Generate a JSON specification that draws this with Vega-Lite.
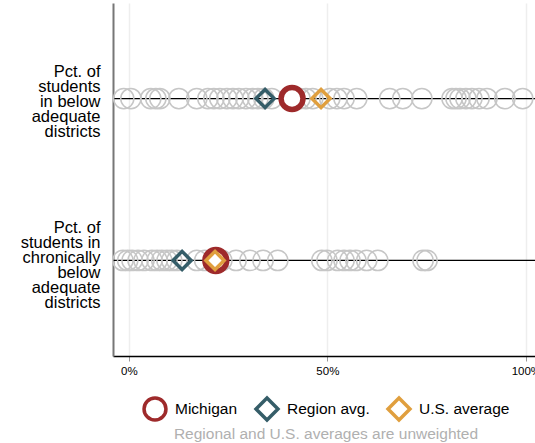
{
  "$schema": "https://vega.github.io/schema/vega-lite/v6.json",
  "width": 422,
  "height": 353,
  "autosize": {"type": "none"},
  "padding": {"left": 113, "top": 3, "right": 0, "bottom": 87},
  "background": "white",
  "config": {
    "font": "Liberation Sans",
    "view": {"stroke": null}
  },
  "datasets": {
    "rows": [
      {"measure": "Pct. of|students|in below|adequate|districts"},
      {"measure": "Pct. of|students in|chronically|below|adequate|districts"}
    ],
    "districts": [
      {"measure": "Pct. of|students|in below|adequate|districts", "pct": -1.3},
      {"measure": "Pct. of|students|in below|adequate|districts", "pct": 0.5},
      {"measure": "Pct. of|students|in below|adequate|districts", "pct": 5.5},
      {"measure": "Pct. of|students|in below|adequate|districts", "pct": 6.8},
      {"measure": "Pct. of|students|in below|adequate|districts", "pct": 7.8},
      {"measure": "Pct. of|students|in below|adequate|districts", "pct": 12.6},
      {"measure": "Pct. of|students|in below|adequate|districts", "pct": 17.1},
      {"measure": "Pct. of|students|in below|adequate|districts", "pct": 19.9},
      {"measure": "Pct. of|students|in below|adequate|districts", "pct": 21.4},
      {"measure": "Pct. of|students|in below|adequate|districts", "pct": 22.9},
      {"measure": "Pct. of|students|in below|adequate|districts", "pct": 24.7},
      {"measure": "Pct. of|students|in below|adequate|districts", "pct": 26.2},
      {"measure": "Pct. of|students|in below|adequate|districts", "pct": 27.7},
      {"measure": "Pct. of|students|in below|adequate|districts", "pct": 29.5},
      {"measure": "Pct. of|students|in below|adequate|districts", "pct": 31.2},
      {"measure": "Pct. of|students|in below|adequate|districts", "pct": 32.5},
      {"measure": "Pct. of|students|in below|adequate|districts", "pct": 34.0},
      {"measure": "Pct. of|students|in below|adequate|districts", "pct": 36.0},
      {"measure": "Pct. of|students|in below|adequate|districts", "pct": 43.1},
      {"measure": "Pct. of|students|in below|adequate|districts", "pct": 44.6},
      {"measure": "Pct. of|students|in below|adequate|districts", "pct": 46.3},
      {"measure": "Pct. of|students|in below|adequate|districts", "pct": 50.6},
      {"measure": "Pct. of|students|in below|adequate|districts", "pct": 52.4},
      {"measure": "Pct. of|students|in below|adequate|districts", "pct": 54.2},
      {"measure": "Pct. of|students|in below|adequate|districts", "pct": 57.4},
      {"measure": "Pct. of|students|in below|adequate|districts", "pct": 65.7},
      {"measure": "Pct. of|students|in below|adequate|districts", "pct": 69.0},
      {"measure": "Pct. of|students|in below|adequate|districts", "pct": 73.8},
      {"measure": "Pct. of|students|in below|adequate|districts", "pct": 81.4},
      {"measure": "Pct. of|students|in below|adequate|districts", "pct": 82.4},
      {"measure": "Pct. of|students|in below|adequate|districts", "pct": 83.4},
      {"measure": "Pct. of|students|in below|adequate|districts", "pct": 84.9},
      {"measure": "Pct. of|students|in below|adequate|districts", "pct": 86.4},
      {"measure": "Pct. of|students|in below|adequate|districts", "pct": 88.2},
      {"measure": "Pct. of|students|in below|adequate|districts", "pct": 90.2},
      {"measure": "Pct. of|students|in below|adequate|districts", "pct": 94.7},
      {"measure": "Pct. of|students|in below|adequate|districts", "pct": 99.2},
      {"measure": "Pct. of|students in|chronically|below|adequate|districts", "pct": -1.5},
      {"measure": "Pct. of|students in|chronically|below|adequate|districts", "pct": -0.3},
      {"measure": "Pct. of|students in|chronically|below|adequate|districts", "pct": 0.8},
      {"measure": "Pct. of|students in|chronically|below|adequate|districts", "pct": 2.3},
      {"measure": "Pct. of|students in|chronically|below|adequate|districts", "pct": 3.8},
      {"measure": "Pct. of|students in|chronically|below|adequate|districts", "pct": 5.8},
      {"measure": "Pct. of|students in|chronically|below|adequate|districts", "pct": 7.1},
      {"measure": "Pct. of|students in|chronically|below|adequate|districts", "pct": 8.3},
      {"measure": "Pct. of|students in|chronically|below|adequate|districts", "pct": 9.6},
      {"measure": "Pct. of|students in|chronically|below|adequate|districts", "pct": 10.8},
      {"measure": "Pct. of|students in|chronically|below|adequate|districts", "pct": 12.1},
      {"measure": "Pct. of|students in|chronically|below|adequate|districts", "pct": 17.1},
      {"measure": "Pct. of|students in|chronically|below|adequate|districts", "pct": 19.1},
      {"measure": "Pct. of|students in|chronically|below|adequate|districts", "pct": 23.4},
      {"measure": "Pct. of|students in|chronically|below|adequate|districts", "pct": 27.0},
      {"measure": "Pct. of|students in|chronically|below|adequate|districts", "pct": 30.5},
      {"measure": "Pct. of|students in|chronically|below|adequate|districts", "pct": 33.8},
      {"measure": "Pct. of|students in|chronically|below|adequate|districts", "pct": 37.5},
      {"measure": "Pct. of|students in|chronically|below|adequate|districts", "pct": 48.6},
      {"measure": "Pct. of|students in|chronically|below|adequate|districts", "pct": 49.9},
      {"measure": "Pct. of|students in|chronically|below|adequate|districts", "pct": 52.6},
      {"measure": "Pct. of|students in|chronically|below|adequate|districts", "pct": 54.2},
      {"measure": "Pct. of|students in|chronically|below|adequate|districts", "pct": 55.7},
      {"measure": "Pct. of|students in|chronically|below|adequate|districts", "pct": 57.2},
      {"measure": "Pct. of|students in|chronically|below|adequate|districts", "pct": 59.9},
      {"measure": "Pct. of|students in|chronically|below|adequate|districts", "pct": 62.7},
      {"measure": "Pct. of|students in|chronically|below|adequate|districts", "pct": 74.1},
      {"measure": "Pct. of|students in|chronically|below|adequate|districts", "pct": 75.1}
    ],
    "highlights": [
      {"measure": "Pct. of|students|in below|adequate|districts", "series": "Michigan", "pct": 41.1},
      {"measure": "Pct. of|students|in below|adequate|districts", "series": "Region avg.", "pct": 34.3},
      {"measure": "Pct. of|students|in below|adequate|districts", "series": "U.S. average", "pct": 48.4},
      {"measure": "Pct. of|students in|chronically|below|adequate|districts", "series": "Michigan", "pct": 21.9},
      {"measure": "Pct. of|students in|chronically|below|adequate|districts", "series": "Region avg.", "pct": 13.4},
      {"measure": "Pct. of|students in|chronically|below|adequate|districts", "series": "U.S. average", "pct": 21.7}
    ]
  },
  "encoding": {
    "y": {
      "field": "measure",
      "type": "nominal",
      "sort": null,
      "scale": {"type": "point", "padding": 0.59, "domain": ["Pct. of|students|in below|adequate|districts", "Pct. of|students in|chronically|below|adequate|districts"]},
      "axis": {
        "title": null,
        "labelExpr": "split(datum.label, '|')",
        "labelFontSize": 16.5,
        "labelLineHeight": 15,
        "labelColor": "black",
        "labelAlign": "right",
        "labelBaseline": "middle",
        "labelPadding": 13,
        "labelLimit": 200,
        "labelOffset": {"condition": {"test": "indexof(datum.value, 'chronically') >= 0", "value": -33}, "value": -27},
        "ticks": false,
        "grid": false,
        "domainColor": "#777777",
        "domainWidth": 2
      }
    }
  },
  "layer": [
    {
      "data": {"name": "rows"},
      "mark": {"type": "rule", "color": "black", "strokeWidth": 1.3},
      "encoding": {}
    },
    {
      "data": {"name": "districts"},
      "mark": {"type": "point", "shape": "circle", "filled": false, "stroke": "#c6c6c6", "strokeWidth": 1.5, "size": 410, "opacity": 1},
      "encoding": {
        "x": {
          "field": "pct",
          "type": "quantitative",
          "scale": {"domain": [-4, 102.3], "nice": false, "zero": false},
          "axis": {
            "title": null,
            "values": [0, 50, 100],
            "labelExpr": "datum.value + '%'",
            "labelFontSize": 11.5,
            "labelColor": "black",
            "labelPadding": 4,
            "tickSize": 5,
            "tickColor": "#999999",
            "domainColor": "black",
            "domainWidth": 1.5,
            "grid": true,
            "gridColor": "#eeeeee",
            "gridWidth": 1.5
          }
        }
      }
    },
    {
      "data": {"name": "highlights"},
      "mark": {"type": "point", "filled": false, "opacity": 1},
      "encoding": {
        "x": {"field": "pct", "type": "quantitative"},
        "stroke": {
          "field": "series",
          "type": "nominal",
          "scale": {"domain": ["Michigan", "Region avg.", "U.S. average"], "range": ["#9e2a2b", "#355d68", "#e09f3e"]},
          "legend": {
            "orient": "none",
            "legendX": 29,
            "legendY": 393,
            "direction": "horizontal",
            "padding": 0,
            "title": "Regional and U.S. averages are unweighted",
            "titleOrient": "bottom",
            "titleAnchor": "middle",
            "titleFontSize": 15.5,
            "titleFontWeight": "normal",
            "titleColor": "#b0b0b0",
            "titlePadding": 0,
            "titleLimit": 500,
            "labelFontSize": 15.5,
            "labelColor": "black",
            "labelOffset": 7,
            "labelLimit": 200,
            "columnPadding": 11,
            "symbolSize": 480,
            "symbolStrokeWidth": 3.5,
            "encode": {
              "symbols": {
                "update": {
                  "size": {"signal": "datum.value === 'Michigan' ? 480 : 330"},
                  "strokeWidth": {"signal": "datum.value === 'Michigan' ? 5.5 : 3.5"}
                }
              }
            }
          }
        },
        "shape": {
          "field": "series",
          "type": "nominal",
          "scale": {"domain": ["Michigan", "Region avg.", "U.S. average"], "range": ["circle", "diamond", "diamond"]}
        },
        "fill": {
          "condition": {"test": "datum.series === 'Michigan'", "value": "white"},
          "value": "transparent"
        },
        "size": {
          "condition": {"test": "datum.series === 'Michigan'", "value": 480},
          "value": 330
        },
        "strokeWidth": {
          "condition": {"test": "datum.series === 'Michigan'", "value": 5.5},
          "value": 3.5
        }
      }
    }
  ]
}
